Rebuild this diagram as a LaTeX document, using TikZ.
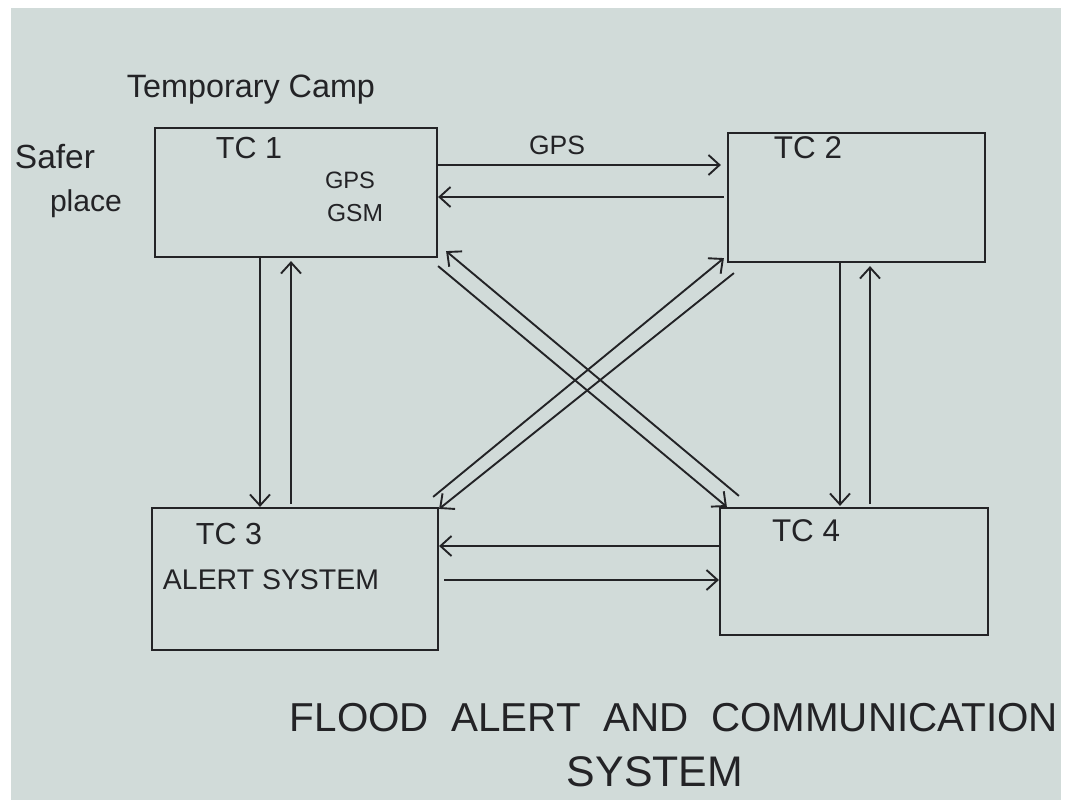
\documentclass[tikz,border=0pt]{standalone}
\usepackage{fontspec}
\setmainfont{Liberation Sans}
\usetikzlibrary{arrows.meta,calc}
\definecolor{paper}{RGB}{209,219,217}
\definecolor{ink}{RGB}{35,35,38}
\newcommand{\fitw}[2]{\resizebox{#1}{!}{#2}}
\begin{document}
\begin{tikzpicture}[x=1pt,y=-1pt,
  camp/.style={draw=ink,line width=2.2pt,inner sep=0pt,fill=none},
  arr/.style={draw=ink,line width=1.9pt,-{Straight Barb[length=11pt,width=20pt,line width=1.9pt]}},
  lab/.style={text=ink,inner sep=0pt,anchor=center}]
\useasboundingbox (0,0) rectangle (1071,808);
\fill[white] (0,0) rectangle (1071,808);
\fill[paper] (11,8) rectangle (1061,800);
% boxes
\node[camp,minimum width=282pt,minimum height=129pt] (TC1) at (296,192.5) {};
\node[camp,minimum width=257pt,minimum height=129pt] (TC2) at (856.5,197.5) {};
\node[camp,minimum width=286pt,minimum height=142pt] (TC3) at (295,579) {};
\node[camp,minimum width=268pt,minimum height=127pt] (TC4) at (854,571.5) {};
% labels
\node[lab] (tcamp) at (251,90) {\fitw{248pt}{Temporary Camp}};
\node[lab] (safer) at (55,157) {\fitw{80pt}{Safer}};
\node[lab] (place) at (86,204) {\fitw{72pt}{place}};
\node[lab] (l1) at (249,148) {\fitw{66pt}{TC 1}};
\node[lab] (gps1) at (350,180) {\fitw{50pt}{GPS}};
\node[lab] (gsm1) at (355,213) {\fitw{56pt}{GSM}};
\node[lab] (l2) at (808,148) {\fitw{68pt}{TC 2}};
\node[lab] (l3) at (229,534) {\fitw{66pt}{TC 3}};
\node[lab] (alert) at (271,580) {\fitw{216pt}{ALERT SYSTEM}};
\node[lab] (l4) at (806,531) {\fitw{68pt}{TC 4}};
\node[lab] (gpsarr) at (557,145) {\fitw{56pt}{GPS}};
\node[lab] (title1) at (674,718) {\fitw{768pt}{FLOOD\ \ ALERT\ \ AND\ \ COMMUNICATION}};
\node[lab] (title2) at (655,772) {\fitw{176pt}{SYSTEM}};
% horizontal connectors
\draw[arr] (TC1.east |- 0,165) -- ($(TC2.west |- 0,165)+(-6,0)$);
\draw[arr] ($(TC2.west |- 0,197)+(-3,0)$) -- (TC1.east |- 0,197);
\draw[arr] (TC4.west |- 0,546) -- (TC3.east |- 0,546);
\draw[arr] ($(TC3.east |- 0,580)+(5,0)$) -- (TC4.west |- 0,580);
% vertical connectors
\draw[arr] (TC1.south -| 260,0) -- (TC3.north -| 260,0);
\draw[arr] ($(TC3.north -| 291,0)+(0,-3)$) -- ($(TC1.south -| 291,0)+(0,3)$);
\draw[arr] (TC2.south -| 840,0) -- ($(TC4.north -| 840,0)+(0,-1)$);
\draw[arr] ($(TC4.north -| 870,0)+(0,-3)$) -- ($(TC2.south -| 870,0)+(0,3)$);
% diagonal connectors
\draw[arr] ($(TC1.south east)+(0,8)$) -- ($(TC4.north west)+(8,0)$);
\draw[arr] ($(TC4.north west)+(20,-11)$) -- ($(TC1.south east)+(8,-7)$);
\draw[arr] ($(TC3.north east)+(-6,-10)$) -- ($(TC2.south west)+(-3,-5)$);
\draw[arr] ($(TC2.south west)+(7,10)$) -- ($(TC3.north east)+(0,2)$);
\end{tikzpicture}
\end{document}
